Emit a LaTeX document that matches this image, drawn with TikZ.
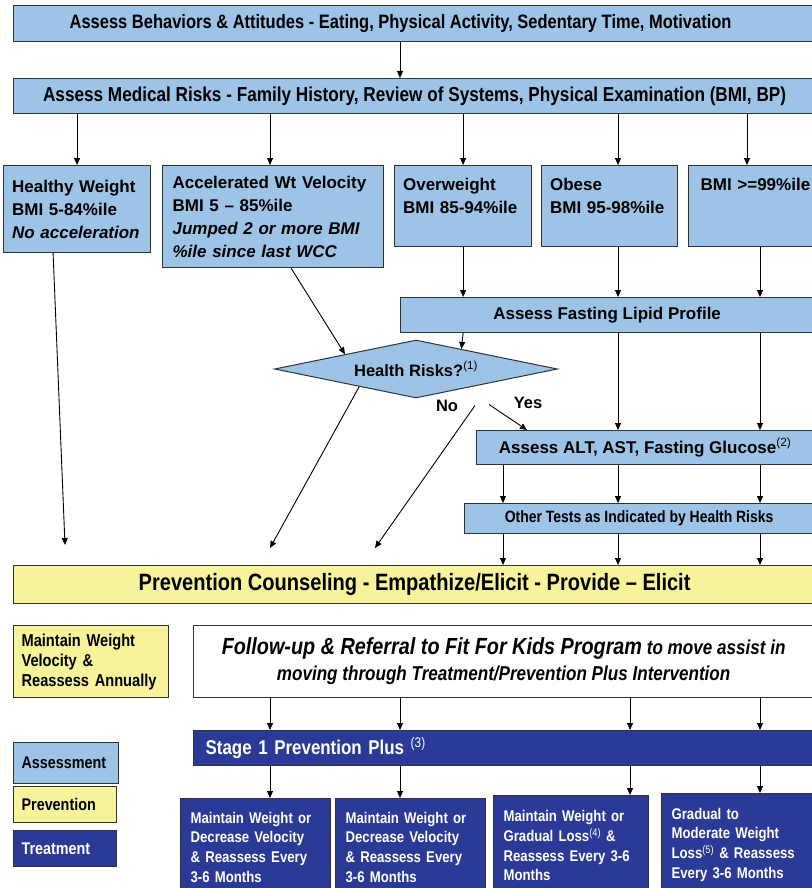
\documentclass[tikz,border=0pt]{standalone}
\usepackage{fontspec}
\setmainfont{Liberation Sans}
\newfontfamily\narrowfont[FakeStretch=0.85]{Liberation Sans}
\usetikzlibrary{shapes.geometric,arrows.meta,positioning,calc}
\definecolor{AssessBlue}{HTML}{9DC3E6}
\definecolor{PreventYellow}{HTML}{F6F39B}
\definecolor{TreatBlue}{HTML}{2B3A97}
\definecolor{BoxEdge}{HTML}{333333}
\hyphenpenalty=10000
\tikzset{
    % plain boxes
    assess/.style={
        rectangle,
        draw=BoxEdge,
        line width=1.2pt,
        fill=AssessBlue,
        text=black,
        inner sep=0pt,
        font=\bfseries
    },
    prevent/.style={
        assess,
        fill=PreventYellow
    },
    treat/.style={
        assess,
        fill=TreatBlue,
        text=white
    },
    followup/.style={
        assess,
        fill=white
    },
    % boxes with left set text
    leftbox/.style={
        anchor=north west,
        align=left,
        inner xsep=#1
    },
    leftbox/.default=8.5pt,
    decision/.style={
        diamond,
        draw=BoxEdge,
        line width=1pt,
        fill=AssessBlue,
        inner sep=0pt,
        aspect=4.9,
        font=\bfseries\fontsize{16.5}{18}\selectfont
    },
    arrow/.style={
        -{Triangle[length=7pt,width=6pt]},
        line width=0.9pt,
        color=black
    },
    tag/.style={
        inner sep=0pt,
        font=\bfseries\fontsize{16.5}{18}\selectfont
    },
    wide/.style={font=\bfseries\fontsize{17}{23}\selectfont},
    slim/.style={font=\narrowfont\bfseries\fontsize{#1}{1.2\dimexpr#1pt\relax}\selectfont}
}

\begin{document}
\begin{tikzpicture}[x=1pt, y=-1pt]
\useasboundingbox (0,0) rectangle (811,888);
% columns of the connectors
\coordinate (colD) at (270,0);
\coordinate (colE) at (400,0);
\coordinate (colA) at (503,0);
\coordinate (colB) at (618,0);
\coordinate (colF) at (630,0);
\coordinate (colC) at (760,0);
\coordinate (colG) at (747,0);

% assessment
\node[assess, slim=19.4, anchor=north west, minimum width=802, minimum height=36] (behav) at (13,5)
    {\hspace*{-28pt}Assess Behaviors \& Attitudes - Eating, Physical Activity, Sedentary Time, Motivation};
\node[assess, slim=20.2, anchor=north west, minimum width=802, minimum height=35] (medical) at (13,78)
    {Assess Medical Risks - Family History, Review of Systems, Physical Examination (BMI, BP)};

\node[assess, wide, leftbox, minimum width=147, minimum height=87, text width=130] (healthy) at (3,165)
    {Healthy Weight\\BMI 5-84\%ile\\\textit{No acceleration}};
\node[assess, wide, leftbox=10pt, minimum width=221, minimum height=102, text width=201] (accel) at (162,165)
    {Accelerated Wt Velocity\\BMI 5 – 85\%ile\\\textit{Jumped 2 or more BMI}\\\textit{\%ile since last WCC}};
\node[assess, wide, leftbox, minimum width=137, minimum height=81, text width=120] (over) at (394,165)
    {Overweight\\BMI 85-94\%ile\\[-10pt]\strut};
\node[assess, wide, leftbox, minimum width=136, minimum height=81, text width=119] (obese) at (541,165)
    {Obese\\BMI 95-98\%ile\\[-10pt]\strut};
\node[assess, wide, leftbox=12pt, minimum width=134, minimum height=81, text width=110] (top99) at (688,165)
    {BMI >=99\%ile\\\strut\\[-10pt]\strut};

\node[assess, wide, anchor=north west, minimum width=413, minimum height=35] (lipid) at (400,297)
    {Assess Fasting Lipid Profile};
\node[decision, minimum width=283, minimum height=58] (risk) at (416,369)
    {Health Risks?\textsuperscript{\mdseries(1)}};
\node[assess, wide, anchor=north west, minimum width=337, minimum height=34] (alt) at (476,430)
    {Assess ALT, AST, Fasting Glucose\textsuperscript{\mdseries(2)}};
\node[assess, slim=16.4, anchor=north west, minimum width=349, minimum height=30] (other) at (464,503)
    {Other Tests as Indicated by Health Risks};
\node[tag] (no) at (447,406) {No};
\node[tag] (yes) at (528,403) {Yes};

% prevention
\node[prevent, slim=23.6, anchor=north west, minimum width=802, minimum height=38] (prevention) at (13,565)
    {Prevention Counseling - Empathize/Elicit - Provide – Elicit};
\node[prevent, font=\narrowfont\bfseries\fontsize{17.2}{20}\selectfont, leftbox=8pt,
      minimum width=155, minimum height=72, text width=139] (maintain) at (13,625)
    {Maintain Weight\\Velocity \&\\Reassess Annually};
\node[followup, font=\narrowfont\bfseries\fontsize{20.1}{26}\selectfont, anchor=north west, align=center,
      minimum width=620, minimum height=72] (follow) at (193,625)
    {{\fontsize{23.3}{26}\selectfont\itshape Follow-up \& Referral to Fit For Kids Program} \textit{to move assist in}\\
     \textit{moving through Treatment/Prevention Plus Intervention}};

% treatment
\node[treat, slim=19.9, leftbox=12pt, minimum width=620, minimum height=35, text width=596] (stage) at (193,730)
    {Stage 1 Prevention Plus \textsuperscript{\mdseries(3)}};
\tikzset{month/.style={treat, font=\narrowfont\bfseries\fontsize{15.5}{19.7}\selectfont, leftbox=10pt}}
\node[month, minimum width=150, minimum height=97, text width=130] (b1) at (180,798)
    {Maintain Weight or\\Decrease Velocity\\\& Reassess Every\\3-6 Months};
\node[month, minimum width=150, minimum height=97, text width=130] (b2) at (335,798)
    {Maintain Weight or\\Decrease Velocity\\\& Reassess Every\\3-6 Months};
\node[month, minimum width=155, minimum height=100, text width=135] (b3) at (493,795)
    {Maintain Weight or\\Gradual Loss\textsuperscript{\mdseries(4)} \&\\Reassess Every 3-6\\Months};
\node[month, minimum width=152, minimum height=102, text width=132] (b4) at (661,793)
    {Gradual to\\Moderate Weight\\Loss\textsuperscript{\mdseries(5)} \& Reassess\\Every 3-6 Months};

% key
\node[assess, slim=16.9, leftbox=8pt, minimum width=105, minimum height=41, text width=89] (keyA) at (13,742) {Assessment};
\node[prevent, slim=16.9, leftbox=8pt, minimum width=103, minimum height=36, text width=87] (keyP) at (13,786) {Prevention};
\node[treat, slim=16.9, leftbox=8pt, minimum width=103, minimum height=36, text width=87] (keyT) at (13,830) {Treatment};

% connectors
\draw[arrow] (behav.south -| colE) -- (medical.north -| colE);
\draw[arrow] (medical.south -| healthy.north) -- (healthy.north);
\draw[arrow] (medical.south -| colD) -- (accel.north -| colD);
\draw[arrow] (medical.south -| over.north) -- (over.north);
\draw[arrow] (medical.south -| colB) -- (obese.north -| colB);
\draw[arrow] (medical.south -| colG) -- (top99.north -| colG);

\draw[arrow] (over.south) -- (over.south |- lipid.north);
\draw[arrow] (obese.south -| colB) -- (lipid.north -| colB);
\draw[arrow] (top99.south -| colC) -- (lipid.north -| colC);
\draw[arrow] (lipid.south -| over.south) -- ($(risk.north)!0.32!(risk.east)$);
\draw[arrow] (lipid.south -| colB) -- (alt.north -| colB);
\draw[arrow] (lipid.south -| colC) -- (alt.north -| colC);
\draw[arrow] ([xshift=18pt]accel.south) -- (risk.north west);

\draw[arrow] ([xshift=-24pt]healthy.south) -- ([shift={(52,-20)}]prevention.north west);
\draw[arrow] ($(risk.west)!0.6!(risk.south)$) -- ([shift={(257,-17)}]prevention.north west);
\draw[arrow] ([shift={(59,7)}]risk.south) -- ([shift={(362,-17)}]prevention.north west);
\draw[arrow] ([shift={(73,6)}]risk.south) -- ([xshift=51pt]alt.north west);

\foreach \col in {colA,colB,colC}{
    \draw[arrow] (alt.south -| \col) -- (other.north -| \col);
    \draw[arrow] (other.south -| \col) -- (prevention.north -| \col);
}
\foreach \col in {colD,colE,colF,colC}
    \draw[arrow] (follow.south -| \col) -- (stage.north -| \col);
\draw[arrow] (stage.south -| colD) -- (b1.north -| colD);
\draw[arrow] (stage.south -| colE) -- (b2.north -| colE);
\draw[arrow] (stage.south -| colF) -- (b3.north -| colF);
\draw[arrow] (stage.south -| colC) -- (b4.north -| colC);
\end{tikzpicture}
\end{document}
